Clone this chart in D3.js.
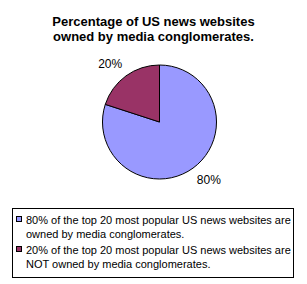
<!DOCTYPE html>
<html>
<head>
<meta charset="utf-8">
<script src="https://cdn.jsdelivr.net/npm/d3@7"></script>
<style>
  body { margin: 0; background: #fff; }
  svg { display: block; font-family: "Liberation Sans", Arial, sans-serif; }
</style>
</head>
<body>
<div id="chart"></div>
<script>
// --- DATA ---
const titleLines = ["Percentage of US news websites", "owned by media conglomerates."];
const shares = [80, 20];
const sliceLabels = ["80%", "20%"];
const legendLines = [
  ["80% of the top 20 most popular US news websites are", "owned by media conglomerates."],
  ["20% of the top 20 most popular US news websites are", "NOT owned by media conglomerates."]
];
const sliceColors = ["#9999FF", "#993366"];

const width = 307, height = 284;
const svg = d3.select("#chart").append("svg")
  .attr("width", width)
  .attr("height", height);

// --- TITLE ---
svg.selectAll(".title")
  .data(titleLines)
  .enter().append("text")
  .attr("class", "title")
  .attr("x", 153.5)
  .attr("y", (d, i) => 26 + i * 15)
  .attr("text-anchor", "middle")
  .attr("font-size", 13)
  .attr("font-weight", "bold")
  .text(d => d);

// --- PIE ---
const cx = 159.5, cy = 122, r = 57;
const pie = d3.pie().sort(null).value(d => d);
const arcs = pie(shares);
const arc = d3.arc().innerRadius(0).outerRadius(r);
const unitArc = d3.arc().innerRadius(1).outerRadius(1);

const g = svg.append("g").attr("transform", `translate(${cx},${cy})`);
g.selectAll("path")
  .data(arcs)
  .enter().append("path")
  .attr("d", arc)
  .attr("fill", (d, i) => sliceColors[i])
  .attr("stroke", "#000")
  .attr("stroke-width", 1);

// labels sit outside the pie, Excel style
g.selectAll(".lbl")
  .data(arcs)
  .enter().append("text")
  .attr("class", "lbl")
  .attr("x", d => unitArc.centroid(d)[0] * 84)
  .attr("y", d => unitArc.centroid(d)[1] * 72)
  .attr("text-anchor", "middle")
  .attr("dominant-baseline", "central")
  .attr("font-size", 12)
  .text((d, i) => sliceLabels[i]);

// --- LEGEND ---
const legend = svg.append("g");
legend.append("rect")
  .attr("x", 12.5).attr("y", 208.5)
  .attr("width", 281).attr("height", 69)
  .attr("fill", "#fff")
  .attr("stroke", "#000");

const item = legend.selectAll(".item")
  .data(legendLines)
  .enter().append("g")
  .attr("transform", (d, i) => `translate(0,${i * 30})`);

item.append("rect")
  .attr("x", 16.5).attr("y", 216.5)
  .attr("width", 5).attr("height", 5)
  .attr("fill", (d, i) => sliceColors[i])
  .attr("stroke", "#000");

item.append("text")
  .attr("font-size", 11)
  .selectAll("tspan")
  .data(d => d)
  .enter().append("tspan")
  .attr("x", (d, i) => i === 0 ? 26 : 26 + 0)
  .attr("y", (d, i) => 224 + i * 14)
  .text(d => d);
</script>
</body>
</html>
